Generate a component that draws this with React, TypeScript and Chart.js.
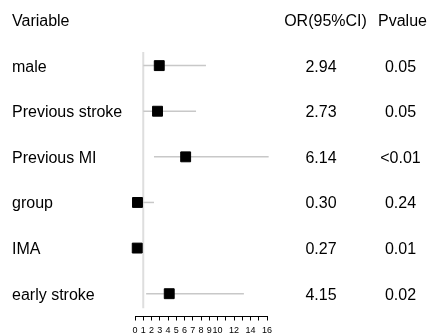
import React, { useEffect, useRef } from "react";
import { Chart, registerables } from "chart.js";

Chart.register(...registerables);

const variables = ["male", "Previous stroke", "Previous MI", "group", "IMA", "early stroke"];
const orValues = [2.94, 2.73, 6.14, 0.3, 0.27, 4.15];
const ciLower = [1.0, 1.0, 2.3, 0.04, 0.05, 1.35];
const ciUpper = [8.6, 7.4, 16.2, 2.3, 0.8, 13.2];
const orLabels = ["2.94", "2.73", "6.14", "0.30", "0.27", "4.15"];
const pLabels = ["0.05", "0.05", "<0.01", "0.24", "0.01", "0.02"];
const headers = ["Variable", "OR(95%CI)", "Pvalue"];
const xTickLabels = [0, 1, 2, 3, 4, 5, 6, 7, 8, 9, 10, 12, 14, 16];
const refLine = { x: 1, yFrom: -0.3, yTo: 5.32 };

const FONT = "16px 'Liberation Sans', Arial, sans-serif";

const textPlugin = {
  id: "forestText",
  afterDraw(chart: any) {
    const ctx = chart.ctx;
    const y = chart.scales.y;
    ctx.save();
    ctx.font = FONT;
    ctx.fillStyle = "#000";
    ctx.textBaseline = "alphabetic";
    const hy = y.getPixelForValue(-1) + 6;
    ctx.textAlign = "left";
    ctx.fillText(headers[0], 12, hy);
    ctx.textAlign = "center";
    ctx.fillText(headers[1], 325.5, hy);
    ctx.fillText(headers[2], 402.5, hy);
    variables.forEach((v, i) => {
      const py = y.getPixelForValue(i) + 6;
      ctx.textAlign = "left";
      ctx.fillText(v, 12, py);
      ctx.textAlign = "center";
      ctx.fillText(orLabels[i], 321, py);
      ctx.fillText(pLabels[i], 400.5, py);
    });
    ctx.restore();
  },
};

export default function App() {
  const ref = useRef<HTMLCanvasElement | null>(null);
  useEffect(() => {
    if (!ref.current) return;
    const ciSets = variables.map((_, i) => ({
      type: "scatter" as const,
      data: [
        { x: ciLower[i], y: i },
        { x: ciUpper[i], y: i },
      ],
      showLine: true,
      borderColor: "#c8c8c8",
      borderWidth: 1.5,
      pointRadius: 0,
      clip: false as any,
    }));
    const chart = new Chart(ref.current, {
      type: "scatter",
      data: {
        datasets: [
          {
            data: orValues.map((v, i) => ({ x: v, y: i })),
            pointStyle: "rect",
            pointRadius: 7,
            pointBackgroundColor: "#000",
            pointBorderColor: "#000",
            pointBorderWidth: 1,
            clip: false as any,
          },
          ...ciSets,
          {
            data: [
              { x: refLine.x, y: refLine.yFrom },
              { x: refLine.x, y: refLine.yTo },
            ],
            showLine: true,
            borderColor: "#dedede",
            borderWidth: 2,
            pointRadius: 0,
            clip: false as any,
          },
        ],
      },
      options: {
        responsive: false,
        animation: false,
        layout: { padding: { left: 135, right: 163, top: 20, bottom: 0 } },
        plugins: { legend: { display: false }, tooltip: { enabled: false } },
        scales: {
          x: {
            type: "linear",
            min: 0,
            max: 16,
            afterFit: (scale: any) => {
              scale.height = 18.5;
            },
            grid: { drawOnChartArea: false, drawTicks: true, tickLength: 4, color: "#000" },
            border: { display: true, color: "#000", width: 1 },
            ticks: {
              stepSize: 1,
              autoSkip: false,
              maxRotation: 0,
              padding: 5,
              color: "#000",
              font: { size: 9, family: "'Liberation Sans', Arial, sans-serif" },
              callback: (v: any) => (xTickLabels.includes(Number(v)) ? String(v) : ""),
            },
          },
          y: { type: "linear", min: -1, max: 5.5, reverse: true, display: false },
        },
      },
      plugins: [textPlugin],
    });
    return () => chart.destroy();
  }, []);
  return (
    <div style={{ position: "absolute", left: 0, top: 0, width: 430, height: 335, background: "#fff" }}>
      <canvas ref={ref} width={430} height={335} />
    </div>
  );
}
